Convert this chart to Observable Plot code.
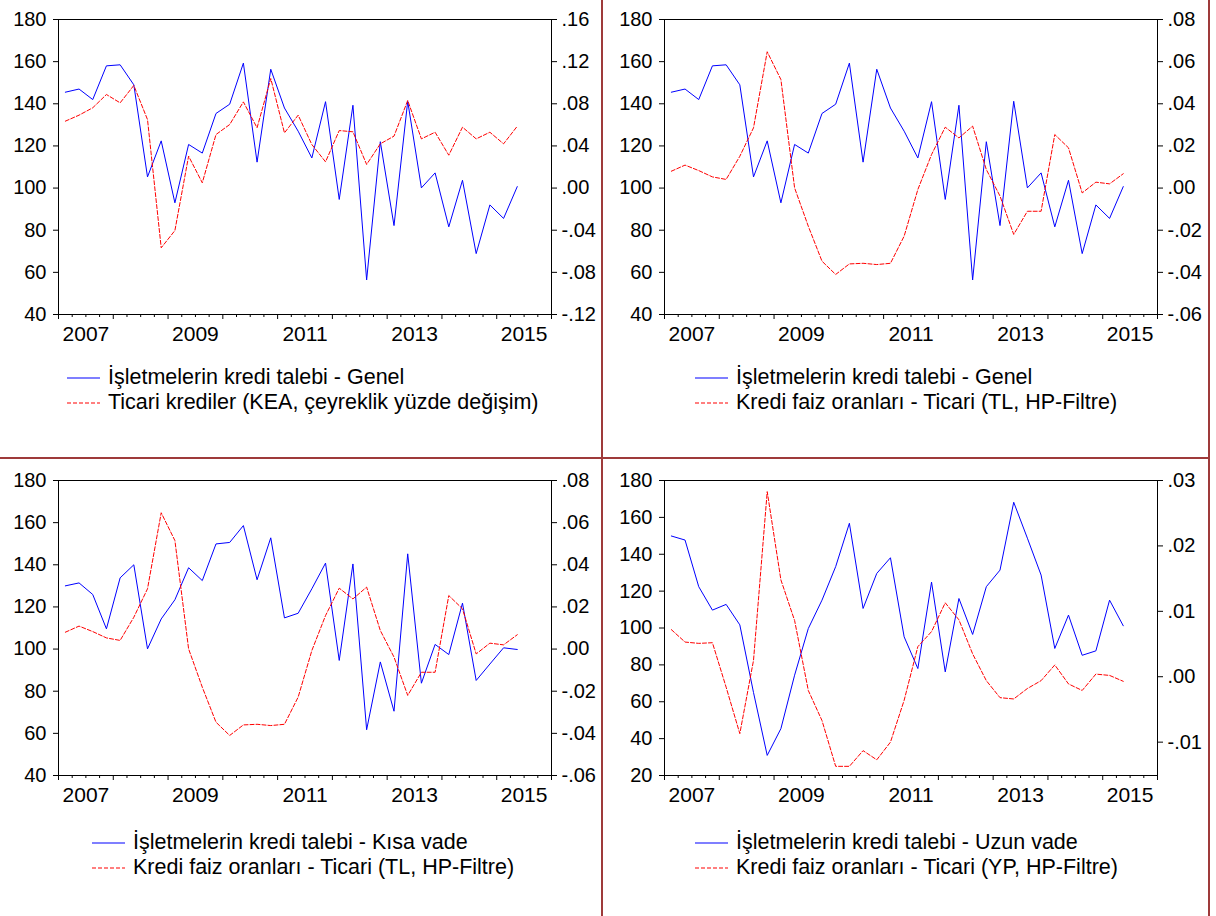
<!DOCTYPE html>
<html><head><meta charset="utf-8">
<script src="https://cdn.jsdelivr.net/npm/d3@7"></script>
<script src="https://cdn.jsdelivr.net/npm/@observablehq/plot@0.6"></script>
<style>
body{margin:0;background:#fff;font-family:"Liberation Sans",Arial,sans-serif;}
#page{position:relative;width:1216px;height:916px;overflow:hidden;background:#fff;}
.layer{position:absolute;}
.legend{position:absolute;font-size:21.5px;color:#000;line-height:25px;}
.row{display:flex;align-items:center;white-space:nowrap;height:25px;}
.row svg{margin-right:8px;flex:none;}
.divider{position:absolute;background:#9e3a3a;}
</style></head><body><div id="page"></div>
<script>
// ---- data ----
const quarters = ["2007Q1","2007Q2","2007Q3","2007Q4","2008Q1","2008Q2","2008Q3","2008Q4",
  "2009Q1","2009Q2","2009Q3","2009Q4","2010Q1","2010Q2","2010Q3","2010Q4",
  "2011Q1","2011Q2","2011Q3","2011Q4","2012Q1","2012Q2","2012Q3","2012Q4",
  "2013Q1","2013Q2","2013Q3","2013Q4","2014Q1","2014Q2","2014Q3","2014Q4",
  "2015Q1","2015Q2"];
const talepGenel = [145.5,147,142,158,158.5,149,105.3,122.4,93,120.7,116.6,135.4,139.8,159.3,112.3,156.4,138,127,114.3,141,94.6,139.3,56.4,122,82.2,141.2,100.1,107.2,81.6,103.7,68.9,92,85.6,100.7];
const talepKisa = [130,131.4,125.9,109.6,133.8,140,100.1,114.3,123.4,138.6,132.5,149.9,150.6,158.6,132.9,152.8,114.8,117,128.6,140.8,94.6,140.4,61.7,93.9,70.5,145.2,83.8,102.2,97.4,121.8,85.1,92.9,100.6,99.8];
const talepUzun = [149.9,147.7,122.4,109.7,112.8,101.7,65,30.9,45.4,74.4,99.7,115.1,133.3,156.8,110.6,129.6,138.1,95.2,78,124.9,76.2,116,96.5,122.4,131.4,168.2,148.7,128.7,88.9,107,85.2,87.6,115.1,101.2];
const ticariKEA = [0.0635,0.0692,0.0762,0.0888,0.0809,0.0974,0.065,-0.0567,-0.0403,0.0303,0.005,0.0508,0.0603,0.0818,0.0572,0.104,0.0524,0.0692,0.0413,0.0249,0.0546,0.0534,0.0224,0.042,0.0493,0.0831,0.0467,0.053,0.0312,0.0578,0.0467,0.053,0.042,0.0587];
const faizTL = [0.008,0.0109,0.0083,0.0053,0.0041,0.0151,0.0286,0.0647,0.0515,0.0001,-0.0181,-0.0347,-0.041,-0.036,-0.0357,-0.0363,-0.0357,-0.0228,-0.0007,0.0159,0.0289,0.0238,0.0294,0.0088,-0.0038,-0.022,-0.011,-0.011,0.0254,0.0191,-0.0023,0.0028,0.002,0.0068];
const faizYP = [0.0072,0.0053,0.0051,0.0052,-0.0016,-0.0087,0.0025,0.0283,0.0148,0.0086,-0.0021,-0.0067,-0.0137,-0.0137,-0.0113,-0.0127,-0.01,-0.0036,0.0046,0.0069,0.0113,0.0087,0.0035,-0.0006,-0.0032,-0.0034,-0.0018,-0.0006,0.0018,-0.0011,-0.0021,0.0004,0.0002,-0.0007];

const yearLabels = [2007, 2009, 2011, 2013, 2015];
const leftTicksA = [40,60,80,100,120,140,160,180];
const leftTicksB = [20,40,60,80,100,120,140,160,180];
const rightTicks1 = [-0.12,-0.08,-0.04,0,0.04,0.08,0.12,0.16];
const rightTicks2 = [-0.06,-0.04,-0.02,0,0.02,0.04,0.06,0.08];
const rightTicks4 = [-0.01,0,0.01,0.02,0.03];

const blueNames = ["İşletmelerin kredi talebi - Genel","İşletmelerin kredi talebi - Genel","İşletmelerin kredi talebi - Kısa vade","İşletmelerin kredi talebi - Uzun vade"];
const redNames = ["Ticari krediler (KEA, çeyreklik yüzde değişim)","Kredi faiz oranları - Ticari (TL, HP-Filtre)","Kredi faiz oranları - Ticari (TL, HP-Filtre)","Kredi faiz oranları - Ticari (YP, HP-Filtre)"];

// ---- layout ----
const panels = [
  {left: 0, top: 0, blue: talepGenel, red: ticariKEA, leftDomain: [40,180], leftTicks: leftTicksA, rightDomain: [-0.12,0.16], rightTicks: rightTicks1, legX: 67, legY: 365},
  {left: 606, top: 0, blue: talepGenel, red: faizTL, leftDomain: [40,180], leftTicks: leftTicksA, rightDomain: [-0.06,0.08], rightTicks: rightTicks2, legX: 695, legY: 365},
  {left: 0, top: 461, blue: talepKisa, red: faizTL, leftDomain: [40,180], leftTicks: leftTicksA, rightDomain: [-0.06,0.08], rightTicks: rightTicks2, legX: 92, legY: 830},
  {left: 606, top: 461, blue: talepUzun, red: faizYP, leftDomain: [20,180], leftTicks: leftTicksB, rightDomain: [-0.0151,0.03], rightTicks: rightTicks4, legX: 695, legY: 830}
];

const qpos = q => +q.slice(0,4) + (+q.slice(5) - 0.5) / 4;
const yearTicks = d3.range(2007, 2017);
const quarterTicks = d3.range(2007, 2016.01, 0.25).filter(v => v % 1 !== 0);
const labelPos = yearLabels.map(y => y + 0.5);
const fmtRight = d => (d < -1e-9 ? "-" : "") + d3.format(".2f")(Math.abs(d)).replace(/^0/, "");

const page = document.getElementById("page");
const baseStyle = {fontFamily: '"Liberation Sans", Arial, sans-serif', fontSize: "20px", color: "#000", overflow: "visible"};

panels.forEach((p, k) => {
  const data = quarters.map((q, i) => ({x: qpos(q), b: p.blue[i], r: p.red[i]}));
  const common = {width: 600, height: 350, marginLeft: 58, marginRight: 49, marginTop: 19, marginBottom: 36};
  const base = Plot.plot({
    ...common,
    style: {...baseStyle, background: "white"},
    x: {domain: [2007, 2016]},
    y: {domain: p.leftDomain},
    marks: [
      Plot.axisY({anchor: "left", ticks: p.leftTicks, tickSize: 5, tickPadding: 7, label: null, tickFormat: d => String(d)}),
      Plot.axisX({ticks: quarterTicks, tickSize: 3, tickFormat: () => "", label: null}),
      Plot.axisX({ticks: yearTicks, tickSize: 5, tickFormat: () => "", label: null}),
      Plot.axisX({ticks: labelPos, tickSize: 0, tickPadding: 12, fontSize: 21, tickFormat: d => String(Math.floor(d)), label: null}),
      Plot.frame({stroke: "#000", strokeWidth: 1}),
      Plot.lineY(data, {x: "x", y: "b", stroke: "#0000ff", strokeWidth: 1})
    ]
  });
  const over = Plot.plot({
    ...common,
    style: {...baseStyle, background: "transparent"},
    x: {domain: [2007, 2016], axis: null},
    y: {domain: p.rightDomain},
    marks: [
      Plot.axisY({anchor: "right", ticks: p.rightTicks, tickSize: 5, tickPadding: 5, label: null, tickFormat: fmtRight}),
      Plot.lineY(data, {x: "x", y: "r", stroke: "#ff0000", strokeWidth: 1, strokeDasharray: "4,2"})
    ]
  });
  for (const svg of [base, over]) {
    const d = document.createElement("div");
    d.className = "layer";
    d.style.left = p.left + "px";
    d.style.top = p.top + "px";
    d.style.width = "600px";
    d.appendChild(svg);
    page.appendChild(d);
  }
  // legend
  const leg = document.createElement("div");
  leg.className = "legend";
  leg.style.left = p.legX + "px";
  leg.style.top = p.legY + "px";
  const mk = (color, dash, text) => {
    const r = document.createElement("div");
    r.className = "row";
    r.innerHTML = `<svg width="33" height="4"><line x1="0" x2="33" y1="2" y2="2" stroke="${color}" stroke-width="1.2" ${dash ? 'stroke-dasharray="4,2"' : ""}/></svg><span></span>`;
    r.querySelector("span").textContent = text;
    return r;
  };
  leg.appendChild(mk("#0000ff", false, blueNames[k]));
  leg.appendChild(mk("#ff0000", true, redNames[k]));
  page.appendChild(leg);
});

// panel dividers
const divs = [
  {l: 601, t: 0, w: 2, h: 916},
  {l: 0, t: 457, w: 1210, h: 2},
  {l: 1208, t: 0, w: 2, h: 916}
];
divs.forEach(s => {
  const d = document.createElement("div");
  d.className = "divider";
  Object.assign(d.style, {left: s.l + "px", top: s.t + "px", width: s.w + "px", height: s.h + "px"});
  page.appendChild(d);
});
</script></body></html>
